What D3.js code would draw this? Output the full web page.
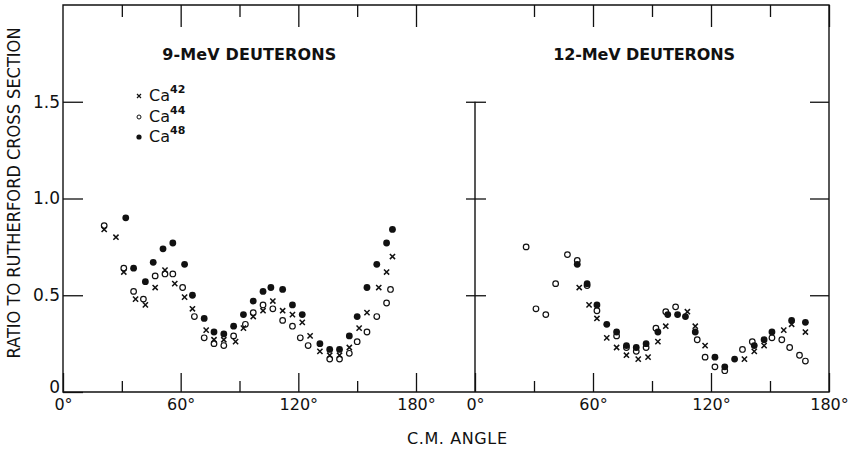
<!DOCTYPE html>
<meta charset="utf-8">
<title>Ratio to Rutherford cross section, Ca isotopes</title>
<style>

body {
  margin: 0;
  background: #fff;
}

text {
  font-family: "DejaVu Sans", sans-serif;
  fill: #111;
}

.frame {
  fill: none;
  stroke: #111;
  stroke-width: 1.4;
}

.tick line {
  stroke: #111;
  stroke-width: 1.3;
}

.domain {
  display: none;
}

.ca44 {
  fill: none;
  stroke: #111;
  stroke-width: 1.2;
}

.ca48 {
  fill: #111;
}

.ca42 {
  fill: none;
  stroke: #111;
  stroke-width: 1.5;
}

</style>
<body>

<div id="chart"></div>

<script src="https://d3js.org/d3.v7.min.js"></script>
<script>

  // [c.m. angle in degrees, ratio to Rutherford]
  var ca42_9 = [[21,0.84],[27,0.80],[31,0.62],[37,0.48],[42,0.45],[47,0.54],[52,0.63],[57,0.56],
                [62,0.49],[66,0.43],[73,0.32],[77,0.27],[82,0.27],[88,0.26],[92,0.33],[97,0.39],
                [102,0.42],[107,0.47],[112,0.42],[117,0.40],[122,0.36],[126,0.29],[131,0.21],
                [136,0.19],[141,0.19],[146,0.23],[151,0.33],[155,0.41],[161,0.54],[165,0.62],[168,0.70]];
  var ca44_9 = [[21,0.86],[31,0.64],[36,0.52],[41,0.48],[47,0.60],[52,0.61],[56,0.61],[61,0.54],
                [67,0.39],[72,0.28],[77,0.25],[82,0.24],[87,0.29],[93,0.35],[97,0.41],[102,0.45],
                [107,0.43],[112,0.37],[117,0.34],[121,0.28],[125,0.24],[136,0.17],[141,0.17],
                [146,0.20],[150,0.26],[155,0.31],[160,0.39],[165,0.46],[167,0.53]];
  var ca48_9 = [[32,0.90],[36,0.64],[42,0.57],[46,0.67],[51,0.74],[56,0.77],[62,0.66],[66,0.50],
                [72,0.38],[77,0.31],[82,0.30],[87,0.34],[92,0.40],[97,0.47],[102,0.52],[106,0.54],
                [112,0.53],[117,0.45],[122,0.40],[131,0.25],[136,0.22],[141,0.22],[146,0.29],
                [150,0.39],[155,0.54],[160,0.66],[165,0.77],[168,0.84]];

  var ca42_12 = [[53,0.54],[58,0.45],[62,0.38],[67,0.28],[72,0.23],[77,0.19],[83,0.17],[88,0.18],
                 [93,0.26],[97,0.34],[108,0.415],[112,0.34],[117,0.24],[137,0.17],[142,0.21],
                 [147,0.24],[157,0.32],[161,0.35],[168,0.31]];
  var ca44_12 = [[26,0.75],[31,0.43],[36,0.40],[41,0.56],[47,0.71],[52,0.68],[57,0.55],[62,0.42],
                 [72,0.29],[77,0.23],[82,0.21],[87,0.23],[92,0.33],[97,0.415],[102,0.44],[113,0.27],
                 [117,0.18],[122,0.13],[127,0.11],[136,0.22],[141,0.26],[151,0.28],[156,0.27],
                 [160,0.23],[165,0.19],[168,0.16]];
  var ca48_12 = [[52,0.66],[57,0.56],[62,0.45],[67,0.35],[72,0.31],[77,0.24],[82,0.23],[87,0.25],
                 [93,0.31],[98,0.40],[103,0.40],[107,0.39],[112,0.31],[122,0.18],[127,0.13],
                 [132,0.17],[142,0.24],[147,0.27],[151,0.31],[161,0.37],[168,0.36]];

  var majorAngles = [0, 60, 120, 180],
      minorAngles = [30, 90, 150],
      ratioTicks = [0, 0.5, 1, 1.5];

  var panelTitles = ["9-MeV DEUTERONS", "12-MeV DEUTERONS"];
  var isotopes = ["42", "44", "48"];

  var width = 855,
      height = 449;

  var svg = d3.select("#chart").append("svg")
      .attr("width", width)
      .attr("height", height);

  var y = d3.scaleLinear().domain([0, 2]).range([392, 5]);
  var x9 = d3.scaleLinear().domain([0, 180]).range([63, 416]);
  var x12 = d3.scaleLinear().domain([0, 180]).range([475, 829]);

  // outer frame and the divider of the 12 MeV panel
  svg.append("path")
      .attr("class", "frame")
      .attr("d", "M" + x9(0) + "," + y(2) + "H" + x12(180) + "V" + y(0) + "H" + x9(0) + "Z");
  svg.append("line")
      .attr("class", "frame")
      .attr("x1", x12(0)).attr("x2", x12(0))
      .attr("y1", y(1.5)).attr("y2", y(0));

  // angle ticks, bottom (labelled) and top
  [x9, x12].forEach(function(x) {
    var bottom = svg.append("g")
        .attr("transform", "translate(0," + y(0) + ")")
        .call(d3.axisBottom(x).tickValues(majorAngles).tickSizeInner(-19).tickSizeOuter(0)
          .tickPadding(7).tickFormat(function(d) { return d + "°"; }));
    bottom.selectAll("text").attr("font-size", 16);

    svg.append("g")
        .attr("transform", "translate(0," + y(0) + ")")
        .call(d3.axisBottom(x).tickValues(minorAngles).tickSizeInner(-11).tickSizeOuter(0).tickFormat(""));
    svg.append("g")
        .attr("transform", "translate(0," + y(2) + ")")
        .call(d3.axisTop(x).tickValues(majorAngles.slice(1)).tickSizeInner(-22).tickSizeOuter(0).tickFormat(""));
    svg.append("g")
        .attr("transform", "translate(0," + y(2) + ")")
        .call(d3.axisTop(x).tickValues(minorAngles).tickSizeInner(-12).tickSizeOuter(0).tickFormat(""));
  });

  // ratio ticks
  var left = svg.append("g")
      .attr("transform", "translate(" + x9(0) + ",0)")
      .call(d3.axisLeft(y).tickValues(ratioTicks).tickSizeInner(-20).tickSizeOuter(0).tickPadding(3)
        .tickFormat(function(d) { return d ? d3.format(".1f")(d) : "0"; }));
  left.selectAll("text").attr("font-size", 17);
  left.selectAll("text").filter(function(d) { return d === 0; }).attr("dy", "0.05em");

  svg.append("g")
      .attr("transform", "translate(" + x12(180) + ",0)")
      .call(d3.axisRight(y).tickValues(ratioTicks.slice(1)).tickSizeInner(-19).tickSizeOuter(0).tickFormat(""));
  svg.append("g")
      .attr("transform", "translate(" + x12(0) + ",0)")
      .call(d3.axisLeft(y).tickValues(ratioTicks.slice(1)).tickSizeInner(9).tickSizeOuter(0).tickFormat(""));
  svg.append("g")
      .attr("transform", "translate(" + x12(0) + ",0)")
      .call(d3.axisRight(y).tickValues(ratioTicks.slice(1)).tickSizeInner(11).tickSizeOuter(0).tickFormat(""));

  // markers
  function cross(s) {
    return "M" + (-s) + "," + (-s) + "L" + s + "," + s + "M" + (-s) + "," + s + "L" + s + "," + (-s);
  }

  function plot(x, open, filled, crosses) {
    svg.append("g").selectAll("circle")
      .data(open)
      .enter().append("circle")
        .attr("class", "ca44")
        .attr("cx", function(d) { return x(d[0]); })
        .attr("cy", function(d) { return y(d[1]); })
        .attr("r", 2.8);
    svg.append("g").selectAll("circle")
      .data(filled)
      .enter().append("circle")
        .attr("class", "ca48")
        .attr("cx", function(d) { return x(d[0]); })
        .attr("cy", function(d) { return y(d[1]); })
        .attr("r", 3.4);
    svg.append("g").selectAll("path")
      .data(crosses)
      .enter().append("path")
        .attr("class", "ca42")
        .attr("transform", function(d) { return "translate(" + x(d[0]) + "," + y(d[1]) + ")"; })
        .attr("d", cross(2.6));
  }

  plot(x9, ca44_9, ca48_9, ca42_9);
  plot(x12, ca44_12, ca48_12, ca42_12);

  // panel titles
  svg.append("text")
      .attr("x", x9(95)).attr("y", 60)
      .attr("text-anchor", "middle")
      .attr("font-size", 16).attr("font-weight", "bold")
      .attr("textLength", 174)
      .text(panelTitles[0]);
  svg.append("text")
      .attr("x", x12(86)).attr("y", 60)
      .attr("text-anchor", "middle")
      .attr("font-size", 16).attr("font-weight", "bold")
      .attr("textLength", 182)
      .text(panelTitles[1]);

  // legend
  var legend = svg.append("g").attr("transform", "translate(139,0)");
  var rows = legend.selectAll("g")
      .data(isotopes)
    .enter().append("g")
      .attr("transform", function(d, i) { return "translate(0," + [96, 117, 137][i] + ")"; });
  rows.each(function(d, i) {
    var g = d3.select(this);
    if (i === 0) g.append("path").attr("class", "ca42").attr("d", cross(2)).style("stroke-width", 1.2);
    if (i === 1) g.append("circle").attr("class", "ca44").attr("r", 2).style("stroke-width", 1);
    if (i === 2) g.append("circle").attr("class", "ca48").attr("r", 2.6);
    var t = g.append("text").attr("x", 10).attr("y", 5).attr("font-size", 16).text("Ca");
    t.append("tspan").attr("dy", -8).attr("font-size", 11).attr("font-weight", "bold").text(d);
  });

  // axis titles
  svg.append("text")
      .attr("transform", "translate(20,193) rotate(-90)")
      .attr("text-anchor", "middle")
      .attr("font-size", 17)
      .attr("textLength", 331)
      .attr("lengthAdjust", "spacingAndGlyphs")
      .text("RATIO TO RUTHERFORD CROSS SECTION");

  svg.append("text")
      .attr("x", 457).attr("y", 444)
      .attr("text-anchor", "middle")
      .attr("font-size", 16)
      .attr("textLength", 100)
      .text("C.M. ANGLE");

</script>

</body>
</html>
